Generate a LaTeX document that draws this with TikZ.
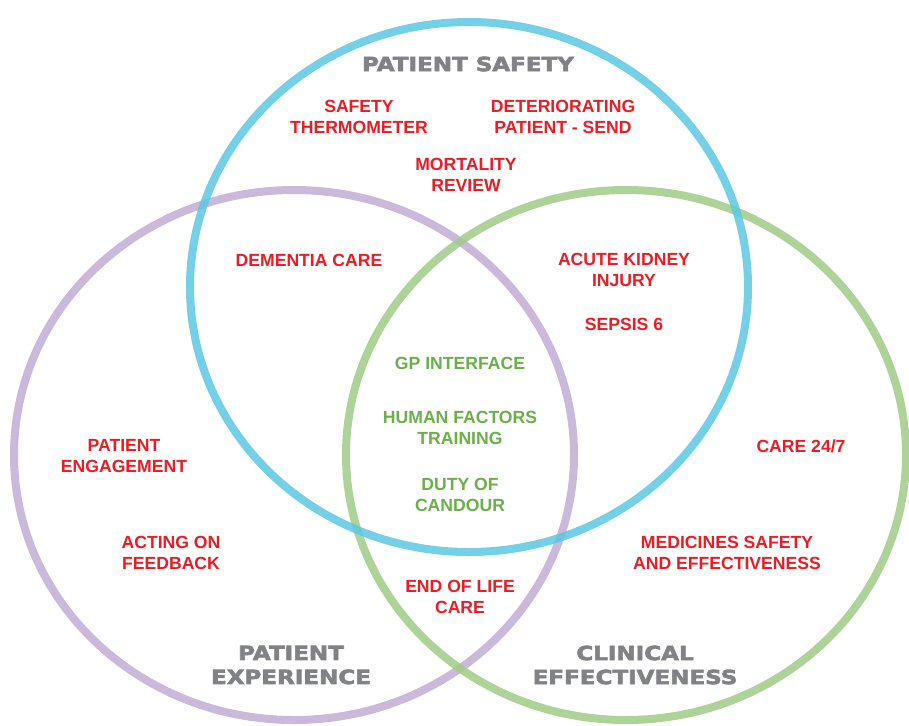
\documentclass[tikz,border=0pt]{standalone}
\usepackage{fontspec}
\setmainfont{Liberation Sans}
\newfontfamily\titlefont[FakeStretch=1.18,FakeBold=3]{DejaVu Sans Bold}

\definecolor{ringblue}{HTML}{5BC8E2}
\definecolor{ringpurple}{HTML}{C1ADD4}
\definecolor{ringgreen}{HTML}{A0CC88}
\definecolor{itemred}{HTML}{ED1C24}
\definecolor{itemgreen}{HTML}{6CB04A}
\definecolor{titlegray}{HTML}{818285}

\tikzset{
  ring/.style = {line width=8pt, draw opacity=0.85},
  item/.style = {text=itemred, align=center, inner sep=0pt,
    font=\bfseries\fontsize{17.6}{21}\selectfont},
  core/.style = {item, text=itemgreen},
  title/.style = {text=titlegray, align=center, inner sep=0pt,
    font=\titlefont\fontsize{19.5}{24}\selectfont}
}

\begin{document}
\begin{tikzpicture}[x=1pt, y=-1pt]
  \useasboundingbox (0,0) rectangle (909,725);
  \fill[white] (0,0) rectangle (909,725);

  % the three rings
  \draw[ring, ringpurple] (294,455) ellipse [x radius=280pt, y radius=265pt];
  \draw[ring, ringgreen]  (626,455) ellipse [x radius=280pt, y radius=265pt];
  \draw[ring, ringblue]   (469,287) ellipse [x radius=279pt, y radius=265pt];

  % titles
  \node[title] (safetyTitle)     at (468,64)  {PATIENT SAFETY};
  \node[title] (experienceTitle) at (291,665) {PATIENT\\EXPERIENCE};
  \node[title] (clinicalTitle)   at (635,665) {CLINICAL\\EFFECTIVENESS};

  % patient safety
  \node[item] (thermometer)   at (359,117) {SAFETY\\THERMOMETER};
  \node[item] (deteriorating) at (563,117) {DETERIORATING\\PATIENT - SEND};
  \node[item] (mortality)     at (466,175) {MORTALITY\\REVIEW};
  \node[item] (dementia)      at (309,260) {DEMENTIA CARE};
  \node[item] (kidney)        at (624,270) {ACUTE KIDNEY\\INJURY};
  \node[item] (sepsis)        at (624,324) {SEPSIS 6};

  % centre
  \node[core] (gp)     at (460,363) {GP INTERFACE};
  \node[core] (human)  at (460,428) {HUMAN FACTORS\\TRAINING};
  \node[core] (candour) at (460,495) {DUTY OF\\CANDOUR};

  % experience and effectiveness
  \node[item] (engagement) at (124,456) {PATIENT\\ENGAGEMENT};
  \node[item] (feedback)   at (171,553) {ACTING ON\\FEEDBACK};
  \node[item] (care247)    at (801,446) {CARE 24/7};
  \node[item] (medicines)  at (727,553) {MEDICINES SAFETY\\AND EFFECTIVENESS};
  \node[item] (endoflife)  at (460,597) {END OF LIFE\\CARE};
\end{tikzpicture}
\end{document}
